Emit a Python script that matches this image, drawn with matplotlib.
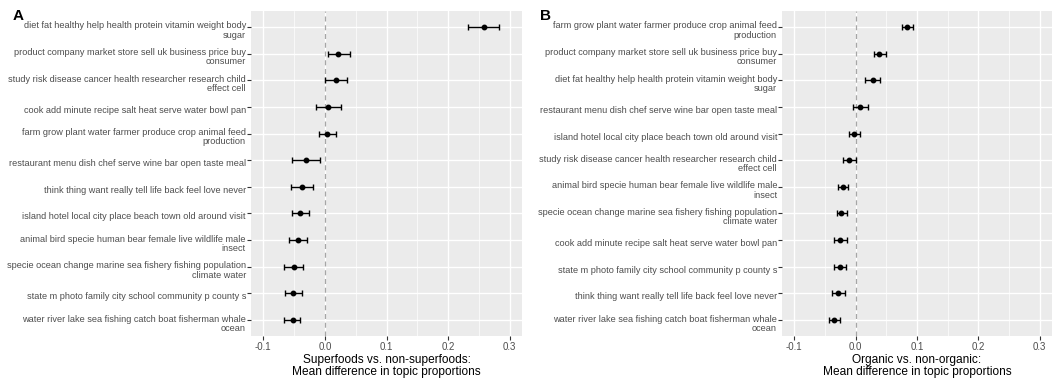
import matplotlib
matplotlib.use("Agg")
import matplotlib.pyplot as plt
import matplotlib.transforms as mtransforms
import numpy as np

plt.rcParams['font.family'] = ['Liberation Sans', 'DejaVu Sans']

# Panel A (top to bottom)
labels_a = [
    "diet fat healthy help health protein vitamin weight body\nsugar",
    "product company market store sell uk business price buy\nconsumer",
    "study risk disease cancer health researcher research child\neffect cell",
    "cook add minute recipe salt heat serve water bowl pan",
    "farm grow plant water farmer produce crop animal feed\nproduction",
    "restaurant menu dish chef serve wine bar open taste meal",
    "think thing want really tell life back feel love never",
    "island hotel local city place beach town old around visit",
    "animal bird specie human bear female live wildlife male\ninsect",
    "specie ocean change marine sea fishery fishing population\nclimate water",
    "state m photo family city school community p county s",
    "water river lake sea fishing catch boat fisherman whale\nocean",
]
est_a = [0.258, 0.022, 0.018, 0.0055, 0.003, -0.030, -0.0377, -0.040, -0.044, -0.050, -0.051, -0.0525]
lo_a = [0.232, 0.005, 0.0005, -0.015, -0.010, -0.0535, -0.055, -0.054, -0.059, -0.067, -0.065, -0.067]
hi_a = [0.283, 0.040, 0.0355, 0.026, 0.0175, -0.0077, -0.020, -0.026, -0.029, -0.035, -0.0366, -0.040]

# Panel B (top to bottom)
labels_b = [
    "farm grow plant water farmer produce crop animal feed\nproduction",
    "product company market store sell uk business price buy\nconsumer",
    "diet fat healthy help health protein vitamin weight body\nsugar",
    "restaurant menu dish chef serve wine bar open taste meal",
    "island hotel local city place beach town old around visit",
    "study risk disease cancer health researcher research child\neffect cell",
    "animal bird specie human bear female live wildlife male\ninsect",
    "specie ocean change marine sea fishery fishing population\nclimate water",
    "cook add minute recipe salt heat serve water bowl pan",
    "state m photo family city school community p county s",
    "think thing want really tell life back feel love never",
    "water river lake sea fishing catch boat fisherman whale\nocean",
]
est_b = [0.0835, 0.0387, 0.028, 0.0076, -0.002, -0.011, -0.021, -0.024, -0.025, -0.025, -0.0284, -0.0355]
lo_b = [0.076, 0.0295, 0.016, -0.0044, -0.0115, -0.021, -0.0295, -0.031, -0.035, -0.035, -0.0387, -0.0436]
hi_b = [0.093, 0.049, 0.039, 0.0196, 0.0065, 0.0005, -0.012, -0.0136, -0.0136, -0.0153, -0.0175, -0.026]

xticks = [-0.1, 0.0, 0.1, 0.2, 0.3]
xticklabels = ["-0.1", "0.0", "0.1", "0.2", "0.3"]
xlabel_a = "Superfoods vs. non-superfoods:\nMean difference in topic proportions"
xlabel_b = "Organic vs. non-organic:\nMean difference in topic proportions"

W, H = 1054, 380
fig = plt.figure(figsize=(W / 100, H / 100), dpi=100)

def panel(left, right, labels, est, lo, hi, xlabel, tag, tagx):
    top, bottom = 11, 336
    ax = fig.add_axes([left / W, 1 - bottom / H, (right - left) / W, (bottom - top) / H])
    ax.set_facecolor('#EBEBEB')
    n = len(labels)
    y = np.arange(n)[::-1] + 1
    ax.set_xlim(-0.12, 0.32)
    ax.set_ylim(0.4, n + 0.6)
    ax.set_xticks(xticks)
    ax.set_xticklabels(xticklabels)
    ax.set_xticks([-0.05, 0.05, 0.15, 0.25], minor=True)
    ax.set_yticks(y)
    ax.set_yticklabels([])
    trans = ax.get_yaxis_transform() + mtransforms.ScaledTranslation(-5 / 100, -2.5 / 100, fig.dpi_scale_trans)
    for yi, lab in zip(y, labels):
        ax.text(0, yi, lab, transform=trans, ha='right', va='center_baseline',
                multialignment='right', fontsize=6.6, color='#4D4D4D', linespacing=1.05)
    ax.grid(which='major', color='white', linewidth=1.0)
    ax.grid(which='minor', axis='x', color='white', linewidth=0.5)
    ax.set_axisbelow(True)
    for s in ax.spines.values():
        s.set_visible(False)
    ax.tick_params(axis='both', which='major', length=3, width=0.8, color='#333333',
                   labelsize=7.0, labelcolor='#4D4D4D', pad=1.0)
    ax.tick_params(axis='both', which='minor', length=0)
    ax.axvline(0, color='#A6A6A6', linestyle=(0, (4, 3)), linewidth=0.9, zorder=1)
    est = np.array(est); lo = np.array(lo); hi = np.array(hi)
    ax.errorbar(est, y, xerr=[est - lo, hi - est], fmt='o', color='black', markersize=3.2,
                elinewidth=1.0, capsize=2.2, capthick=1.0, zorder=3)
    ax.set_xlabel(xlabel, fontsize=8.6, color='black', labelpad=2, linespacing=1.0)
    fig.text(tagx / W, 1 - 16.5 / H, tag, fontsize=11, fontweight='bold', ha='left', va='center')
    return ax

panel(251, 522, labels_a, est_a, lo_a, hi_a, xlabel_a, "A", 13)
panel(782, 1052, labels_b, est_b, lo_b, hi_b, xlabel_b, "B", 540)

fig.savefig("out.png", dpi=100, facecolor='white')
